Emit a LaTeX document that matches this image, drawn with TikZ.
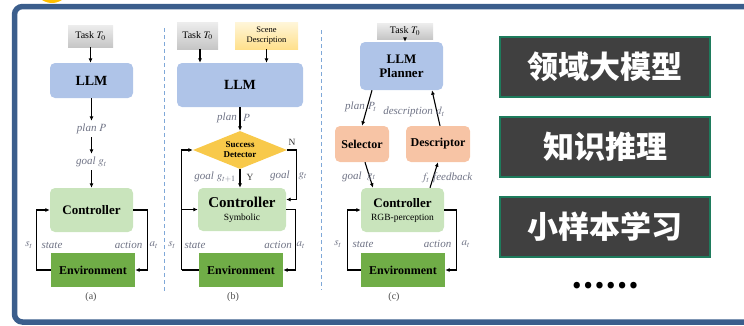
\documentclass[tikz,border=0pt]{standalone}
\usepackage{mathptmx}
\usepackage{fontspec}
\setmainfont{Liberation Serif}
\newfontfamily\cjk{Noto Sans CJK SC}
\usetikzlibrary{arrows.meta,shapes.geometric,calc}
\definecolor{framecol}{HTML}{3B5E8C}
\definecolor{circyel}{HTML}{FFC000}
\definecolor{llmblue}{HTML}{AFC4E8}
\definecolor{ctrlgreen}{HTML}{C9E4BC}
\definecolor{envgreen}{HTML}{70AD47}
\definecolor{diayel}{HTML}{F8C94A}
\definecolor{orangebox}{HTML}{F7C4A5}
\definecolor{taskTop}{HTML}{EDEDED}
\definecolor{taskBot}{HTML}{C6C6C6}
\definecolor{sceneTop}{HTML}{FFF6DA}
\definecolor{sceneBot}{HTML}{FFE08C}
\definecolor{labc}{HTML}{6F7385}
\definecolor{sepblue}{HTML}{7FA8D8}
\definecolor{darkbox}{HTML}{404040}
\definecolor{boxgreen}{HTML}{1E7B5C}
\tikzset{
  rbox/.style={rounded corners=5pt, inner sep=0pt, align=center},
  llmbox/.style={rbox, fill=llmblue, font=\bfseries\fontsize{14}{15}\selectfont},
  ctrlbox/.style={rbox, fill=ctrlgreen, font=\bfseries\fontsize{13}{14}\selectfont},
  envbox/.style={fill=envgreen, inner sep=0pt, font=\bfseries\fontsize{12}{13}\selectfont},
  taskbox/.style={top color=taskTop, bottom color=taskBot, inner sep=0pt, align=center, font=\fontsize{10}{11}\selectfont},
  scenebox/.style={top color=sceneTop, bottom color=sceneBot, inner sep=0pt, align=center, font=\fontsize{8.5}{10}\selectfont},
  orbox/.style={rbox, fill=orangebox, font=\bfseries\fontsize{12}{13}\selectfont},
  arr/.style={line width=1.1pt, -{Latex[length=4.5pt,width=4pt]}},
  lnk/.style={line width=1.1pt},
  lab/.style={text=labc, inner sep=1pt, font=\itshape\fontsize{11}{12}\selectfont},
  flowlab/.style={lab, inner sep=3pt},
  sepline/.style={draw=sepblue, dash pattern=on 4pt off 3pt, line width=0.8pt},
  cnbox/.style={fill=darkbox, draw=boxgreen, line width=1.5pt, minimum width=210pt, minimum height=60pt, inner sep=0pt, text=white, font=\cjk\bfseries\fontsize{31}{33}\selectfont},
  caplab/.style={font=\fontsize{10}{12}\selectfont, text=black!70},
  yn/.style={font=\fontsize{9.5}{10}\selectfont, text=black!80}
}
\begin{document}
\begin{tikzpicture}[x=1pt,y=-1pt]
\useasboundingbox (0,0) rectangle (744,325);
\clip (0,0) rectangle (744,325);
% decoration and frame
\fill[circyel] (52,-15) circle (18pt);
\draw[framecol, line width=5.5pt, rounded corners=8pt] (780,6.5) -- (14.5,6.5) -- (14.5,322) -- (780,322);

% separators
\coordinate (s1t) at (164,28); \coordinate (s1b) at (164,292);
\coordinate (s2t) at (321,30); \coordinate (s2b) at (321,290);
\draw[sepline] (s1t) -- (s1b);
\draw[sepline] (s2t) -- (s2b);

% ---------------- panel (a)
\node[taskbox, minimum width=45pt, minimum height=22pt] (taskA) at (90.5,36) {Task $T_0$};
\node[llmbox, minimum width=83pt, minimum height=35pt] (llmA) at (91.5,80.5) {LLM};
\node[flowlab] (planA) at (91.5,129) {plan $P$};
\node[flowlab] (goalA) at (91.5,162) {goal $g_t$};
\node[ctrlbox, minimum width=83pt, minimum height=44pt] (ctrlA) at (91.5,210) {Controller};
\node[envbox, minimum width=84pt, minimum height=34pt] (envA) at (93,270) {Environment};
\draw[arr] (taskA) -- (taskA.south |- llmA.north);
\draw[arr] (llmA) -- (planA);
\draw[arr] (planA) -- (goalA);
\draw[arr] (goalA) -- (ctrlA);
\draw[arr] (envA.west) -- ++(-14,0) |- (ctrlA.west);
\draw[arr] (ctrlA.east) -- ++(14,0) |- (envA.east);
\node[lab] (stA) at (29,245) {$s_t$};
\node[lab] (stateA) at (52,245) {state};
\node[lab] (actA) at (128.5,245) {action};
\node[lab] (atA) at (154,245) {$a_t$};
\node[caplab] (capA) at (91,297) {(a)};

% ---------------- panel (b)
\node[taskbox, minimum width=41pt, minimum height=27pt] (taskB) at (197.5,35.5) {Task $T_0$};
\node[scenebox, minimum width=63pt, minimum height=27pt] (sceneB) at (266.5,35.5) {Scene\\Description};
\node[llmbox, minimum width=126pt, minimum height=44pt] (llmB) at (240,85) {LLM};
\node[diamond, fill=diayel, inner sep=0pt, minimum width=94pt, minimum height=38pt, aspect=2.47, align=center, font=\bfseries\fontsize{9}{10}\selectfont] (dia) at (240,150) {Success\\Detector};
\node[ctrlbox, minimum width=88pt, minimum height=43pt, font=\bfseries\fontsize{15}{14}\selectfont] (ctrlB) at (242,209.5) {Controller\\[-1pt]{\mdseries\fontsize{9.5}{11}\selectfont Symbolic}};
\node[envbox, minimum width=84pt, minimum height=34pt] (envB) at (241,270) {Environment};
\draw[arr] ([xshift=2.5pt]taskB.south) -- ([xshift=2.5pt]taskB.south |- llmB.north);
\draw[arr] (sceneB.south) -- (sceneB.south |- llmB.north);
\draw[arr] (llmB) -- (dia);
\node[lab, anchor=east] (planB) at (238,118) {plan};
\node[lab, anchor=west] (PB) at (242,118) {$P$};
\draw[arr] (dia) -- (ctrlB.north -| dia.south);
\node[lab, anchor=east] (goalB1) at (237,177) {goal $g_{t+1}$};
\node[yn, anchor=west] (yesB) at (243,177) {Y};
\node[yn] (noB) at (292,142) {N};
\draw[arr] (dia.east) -- ++(9,0) |- ($(ctrlB.east)+(0,-10)$);
\node[lab, anchor=east] (goalB2) at (291,176) {goal};
\node[lab] (gtB) at (303,176) {$g_t$};
\draw[lnk] (envB.west) -- ++(-17,0) coordinate (blB);
\draw[arr] (blB) |- (dia.west);
\draw[arr] (blB |- ctrlB.west) -- (ctrlB.west);
\draw[arr] (ctrlB.east) -- ++(9,0) |- (envB.east);
\node[lab] (stB) at (172,245) {$s_t$};
\node[lab] (stateB) at (195,245) {state};
\node[lab] (actB) at (278,245) {action};
\node[lab] (atB) at (301,245) {$a_t$};
\node[caplab] (capB) at (233,297) {(b)};

% ---------------- panel (c)
\node[taskbox, minimum width=56pt, minimum height=16pt] (taskC) at (405,31) {Task $T_0$};
\node[llmbox, minimum width=83pt, minimum height=48pt, font=\bfseries\fontsize{13}{14}\selectfont] (llmC) at (401.5,66) {LLM\\Planner};
\node[orbox, minimum width=54pt, minimum height=36pt] (selC) at (362,144) {Selector};
\node[orbox, minimum width=64pt, minimum height=36pt] (descC) at (438,144) {Descriptor};
\node[ctrlbox, minimum width=83pt, minimum height=44pt] (ctrlC) at (402.5,210) {Controller\\[-1pt]{\mdseries\fontsize{9.5}{11}\selectfont RGB-perception}};
\node[envbox, minimum width=84pt, minimum height=34pt] (envC) at (403,270) {Environment};
\draw[arr] (taskC.south) -- (taskC.south |- llmC.north);
\draw[arr] ([xshift=-29.5pt]llmC.south) -- (selC.north);
\draw[arr] ([xshift=2pt]descC.north) -- ([xshift=30.5pt]llmC.south);
\draw[arr] ([xshift=3pt]selC.south) -- ([xshift=-29.5pt]ctrlC.north);
\draw[arr] ([xshift=27.5pt]ctrlC.north) -- (descC.south);
\node[lab, anchor=east] (planC) at (366,107) {plan};
\node[lab, anchor=west] (PtC) at (367,107) {$P_t$};
\node[lab, anchor=east] (descL) at (434,112) {description};
\node[lab, anchor=west] (dtC) at (435,112) {$d_t$};
\node[lab, anchor=east] (goalC) at (363,177) {goal};
\node[lab, anchor=west] (gtC) at (366,177) {$g_t$};
\node[lab, anchor=east] (ftC) at (431,178) {$f_t$};
\node[lab, anchor=west] (fbC) at (432,178) {feedback};
\draw[arr] (envC.west) -- ++(-13,0) |- (ctrlC.west);
\draw[arr] (ctrlC.east) -- ++(12,0) |- (envC.east);
\node[lab] (stC) at (338,244) {$s_t$};
\node[lab] (stateC) at (363,244) {state};
\node[lab] (actC) at (437.5,244) {action};
\node[lab] (atC) at (466,244) {$a_t$};
\node[caplab] (capC) at (394,297) {(c)};

% ---------------- right panel
\node[cnbox] (k1) at (605,67) {领域大模型};
\node[cnbox] (k2) at (605,147) {知识推理};
\node[cnbox] (k3) at (605,227) {小样本学习};
\node[font=\cjk\bfseries\fontsize{30}{30}\selectfont] (dots) at (605,286) {……};
\end{tikzpicture}
\end{document}
